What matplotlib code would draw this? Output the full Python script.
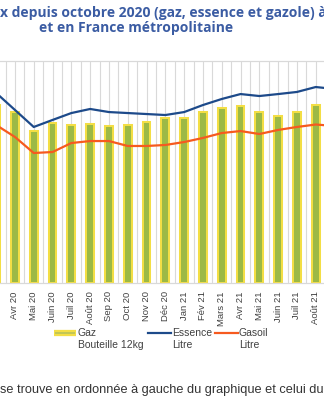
import matplotlib.pyplot as plt
from matplotlib.lines import Line2D
import numpy as np

plt.rcParams['font.family'] = ['Liberation Sans Narrow', 'Liberation Sans', 'DejaVu Sans']

# Data (monthly averages)
months = ["Mars 20", "Avr 20", "Mai 20", "Juin 20", "Juil 20", "Août 20", "Sep 20",
          "Oct 20", "Nov 20", "Déc 20", "Jan 21", "Fév 21", "Mars 21", "Avr 21",
          "Mai 21", "Juin 21", "Juil 21", "Août 21", "Sep 21"]

# gas bottle 12kg, euros (left axis)
gaz = [32.1, 30.8, 27.4, 28.8, 28.5, 28.6, 28.3, 28.5, 29.0, 29.7, 29.7, 30.8,
       31.5, 31.9, 30.8, 30.1, 30.8, 32.1, 32.1]
# fuels, euros per litre (right axis)
essence = [1.541, 1.403, 1.265, 1.322, 1.378, 1.411, 1.386, 1.378, 1.370, 1.362,
           1.386, 1.443, 1.492, 1.532, 1.516, 1.532, 1.549, 1.589, 1.573]
gasoil = [1.281, 1.184, 1.054, 1.062, 1.135, 1.151, 1.151, 1.111, 1.111, 1.119,
          1.143, 1.176, 1.216, 1.232, 1.208, 1.241, 1.265, 1.285, 1.273]

green = '#9cb946'
yellow = '#f3de45'
blue = '#1d4a8a'
orange = '#f65a1f'
grid = '#d9d9d9'
txt = '#404040'

fig = plt.figure(figsize=(3.24, 4.0), dpi=100)
ax = fig.add_axes([0.0, 0.2925, 1.0, 0.555])
x = np.arange(len(months))

# vertical grid every half month
for g in np.arange(0, len(months), 0.5):
    ax.axvline(g, color=grid, lw=0.8, zorder=0)

ax.bar(x, gaz, width=0.41, color=green, edgecolor=yellow, linewidth=1.45, zorder=2)
ax.set_ylim(0, 40)

ax2 = ax.twinx()
ax2.plot(x, essence, color=blue, lw=1.6, zorder=3)
ax2.plot(x, gasoil, color=orange, lw=1.6, zorder=3)
ax2.set_ylim(0, 1.8)
ax2.set_yticks([])

ax.set_yticks([])
ax.set_xticks(x)
ax.set_xticklabels(months, rotation=90, fontsize=6.8, color=txt)
ax.tick_params(axis='x', length=0, pad=6)
# the chart is cropped: only part of the months are in view
xlim = (0.205, 0.205 + 324 / 18.8)
ax.set_xlim(*xlim)
ax2.set_xlim(*xlim)
for a in (ax, ax2):
    a.spines['left'].set_visible(False)
    a.spines['right'].set_visible(False)
    a.spines['top'].set_color(grid)
    a.spines['bottom'].set_color(grid)

# legend (two-line labels, handle on first line)
def fx(px):
    return px / 324

def fy(py):
    return 1 - py / 400

fig.add_artist(Line2D([fx(54), fx(76)], [fy(333), fy(333)], color=yellow, lw=4.5, solid_capstyle='butt'))
fig.add_artist(Line2D([fx(55), fx(75)], [fy(333), fy(333)], color='#b9c25a', lw=1.2, solid_capstyle='butt'))
fig.add_artist(Line2D([fx(148), fx(171)], [fy(333), fy(333)], color=blue, lw=1.6))
fig.add_artist(Line2D([fx(215), fx(238)], [fy(333), fy(333)], color=orange, lw=1.6))
for px, t1, t2 in [(78, "Gaz", "Bouteille 12kg"), (172, "Essence", "Litre"), (239, "Gasoil", "Litre")]:
    fig.text(fx(px), fy(333), t1, fontsize=7.5, color=txt, va='center', ha='left')
    fig.text(fx(px), fy(345), t2, fontsize=7.5, color=txt, va='center', ha='left')

title_color = '#3b5ca3'
fig.text(0.0, fy(13), "x depuis octobre 2020 (gaz, essence et gazole) à",
         fontsize=10, fontweight='bold', color=title_color, va='center', ha='left',
         family=['Open Sans', 'DejaVu Sans'])
fig.text(fx(136), fy(28), "et en France métropolitaine",
         fontsize=10, fontweight='bold', color=title_color, va='center', ha='center',
         family=['Open Sans', 'DejaVu Sans'])
fig.text(0.0, fy(390), "se trouve en ordonnée à gauche du graphique et celui du",
         fontsize=9.2, color='#333333', va='center', ha='left',
         family=['Liberation Sans', 'DejaVu Sans'])

fig.savefig('out.png', dpi=100)
